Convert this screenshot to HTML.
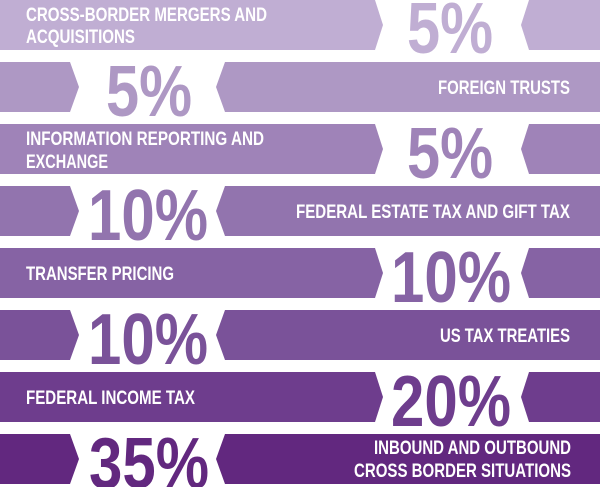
<!DOCTYPE html>
<html><head><meta charset="utf-8"><style>
html,body{margin:0;padding:0;background:#fff;}
svg{display:block;}
.l{font-family:"Liberation Sans",sans-serif;font-weight:bold;font-size:19px;fill:#fff;}
.p{font-family:"Liberation Sans",sans-serif;font-weight:bold;font-size:72px;}
</style></head><body>
<svg width="600" height="487" viewBox="0 0 600 487">
<!-- row1 -->
<g fill="#c0aed3"><polygon points="0,0 375,0 383,25 375,50 0,50"/><polygon points="529,0 600,0 600,50 529,50 521,25"/></g>
<text class="l" x="26" y="21" textLength="241" lengthAdjust="spacingAndGlyphs">CROSS-BORDER MERGERS AND</text><text class="l" x="26" y="43" textLength="109" lengthAdjust="spacingAndGlyphs">ACQUISITIONS</text>
<text class="p" x="450" y="53" text-anchor="middle" textLength="86" lengthAdjust="spacingAndGlyphs" fill="#c0aed3">5%</text>
<!-- row2 -->
<g fill="#ae98c4"><polygon points="0,62 70,62 79,87 70,112 0,112"/><polygon points="225,62 600,62 600,112 225,112 216,87"/></g>
<text class="l" x="570" y="94" text-anchor="end" textLength="132" lengthAdjust="spacingAndGlyphs">FOREIGN TRUSTS</text>
<text class="p" x="149" y="116" text-anchor="middle" textLength="86" lengthAdjust="spacingAndGlyphs" fill="#ae98c4">5%</text>
<!-- row3 -->
<g fill="#9f83b8"><polygon points="0,124 375,124 383,149 375,174 0,174"/><polygon points="529,124 600,124 600,174 529,174 521,149"/></g>
<text class="l" x="26" y="145" textLength="238" lengthAdjust="spacingAndGlyphs">INFORMATION REPORTING AND</text><text class="l" x="26" y="168" textLength="82" lengthAdjust="spacingAndGlyphs">EXCHANGE</text>
<text class="p" x="450" y="178" text-anchor="middle" textLength="86" lengthAdjust="spacingAndGlyphs" fill="#9f83b8">5%</text>
<!-- row4 -->
<g fill="#9274ae"><polygon points="0,186 70,186 79,211 70,236 0,236"/><polygon points="225,186 600,186 600,236 225,236 216,211"/></g>
<text class="l" x="570" y="218" text-anchor="end" textLength="274" lengthAdjust="spacingAndGlyphs">FEDERAL ESTATE TAX AND GIFT TAX</text>
<text class="p" x="148" y="240" text-anchor="middle" textLength="120" lengthAdjust="spacingAndGlyphs" fill="#9274ae">10%</text>
<!-- row5 -->
<g fill="#8663a4"><polygon points="0,248 375,248 383,273 375,298 0,298"/><polygon points="529,248 600,248 600,298 529,298 521,273"/></g>
<text class="l" x="26" y="280" textLength="148" lengthAdjust="spacingAndGlyphs">TRANSFER PRICING</text>
<text class="p" x="451" y="302" text-anchor="middle" textLength="120" lengthAdjust="spacingAndGlyphs" fill="#8663a4">10%</text>
<!-- row6 -->
<g fill="#7a5299"><polygon points="0,310 70,310 79,335 70,360 0,360"/><polygon points="225,310 600,310 600,360 225,360 216,335"/></g>
<text class="l" x="570" y="342" text-anchor="end" textLength="130" lengthAdjust="spacingAndGlyphs">US TAX TREATIES</text>
<text class="p" x="148" y="364" text-anchor="middle" textLength="120" lengthAdjust="spacingAndGlyphs" fill="#7a5299">10%</text>
<!-- row7 -->
<g fill="#6e3d8d"><polygon points="0,372 375,372 383,397 375,422 0,422"/><polygon points="529,372 600,372 600,422 529,422 521,397"/></g>
<text class="l" x="26" y="404" textLength="169" lengthAdjust="spacingAndGlyphs">FEDERAL INCOME TAX</text>
<text class="p" x="451" y="426" text-anchor="middle" textLength="120" lengthAdjust="spacingAndGlyphs" fill="#6e3d8d">20%</text>
<!-- row8 -->
<g fill="#62287f"><polygon points="0,434 70,434 79,459 70,484 0,484"/><polygon points="225,434 600,434 600,484 225,484 216,459"/></g>
<text class="l" x="571" y="454" text-anchor="end" textLength="197" lengthAdjust="spacingAndGlyphs">INBOUND AND OUTBOUND</text><text class="l" x="571" y="477" text-anchor="end" textLength="217" lengthAdjust="spacingAndGlyphs">CROSS BORDER SITUATIONS</text>
<text class="p" x="149" y="488" text-anchor="middle" textLength="120" lengthAdjust="spacingAndGlyphs" fill="#62287f">35%</text>
</svg>
</body></html>
